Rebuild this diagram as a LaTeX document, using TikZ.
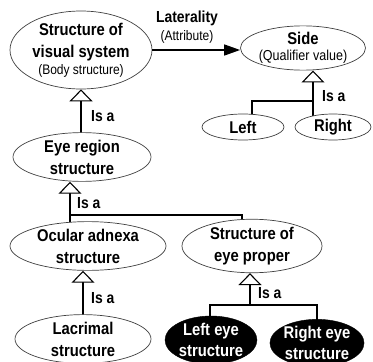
\documentclass[tikz,border=0pt]{standalone}
\usepackage{fontspec}
\setmainfont{Liberation Sans}[FakeStretch=0.87]
\usetikzlibrary{shapes.geometric,arrows.meta,backgrounds}
\begin{document}
\begin{tikzpicture}[x=1pt,y=-1pt,
  ell/.style={ellipse,draw=black!75,line width=0.7pt,fill=white,inner sep=0pt,align=center,
    font=\bfseries\fontsize{17}{22}\selectfont},
  blk/.style={ellipse,draw=black,fill=black,text=white,inner sep=0pt,align=center,
    font=\bfseries\fontsize{17}{21}\selectfont},
  sub/.style={font=\mdseries\fontsize{13.8}{15}\selectfont},
  isa/.style={line width=1.5pt,-{Triangle[width=23pt,length=12pt,fill=white,line width=1.1pt]}},
  isaline/.style={line width=1.5pt},
  lab/.style={font=\bfseries\fontsize{16}{18}\selectfont,inner sep=0pt,anchor=west},
]
\useasboundingbox (0,0) rectangle (373,362);

\node[ell,minimum width=142pt,minimum height=78pt] (VS) at (81,50)
  {Structure of\\visual system\\[-5pt]{\mdseries\fontsize{13.8}{15}\selectfont(Body structure)}};
\node[ell,minimum width=114pt,minimum height=40pt] (Side) at (303,48)
  {Side\\[-6pt]{\mdseries\fontsize{14.4}{15}\selectfont(Qualifier value)}};
\node[ell,minimum width=82pt,minimum height=26pt] (Left) at (243,127) {Left};
\node[ell,minimum width=76pt,minimum height=26pt] (Right) at (333,127) {Right};
\node[ell,minimum width=138pt,minimum height=44pt] (ER) at (82,157) {Eye region\\structure};
\node[ell,minimum width=156pt,minimum height=46pt] (OA) at (88,246) {Ocular adnexa\\structure};
\node[ell,minimum width=140pt,minimum height=48pt] (EP) at (252,246) {Structure of\\eye proper};
\node[ell,minimum width=136pt,minimum height=44pt] (LA) at (83,339) {Lacrimal\\structure};
\node[blk,minimum width=92pt,minimum height=48pt] (LE) at (211,340) {Left eye\\structure};
\node[blk,minimum width=92pt,minimum height=46pt] (RE) at (317,343) {Right eye\\structure};

\node[font=\bfseries\fontsize{16}{18}\selectfont,inner sep=0pt] (lat) at (187,18) {Laterality};
\node[sub,inner sep=0pt] (att) at (187,37) {(Attribute)};

\coordinate (j1) at (313,101);
\coordinate (j1l) at (252,101);
\coordinate (a1) at (81,0);
\coordinate (a2) at (70,215);
\coordinate (a2r) at (242,215);
\coordinate (a3) at (83,0);
\coordinate (a4) at (250,305);
\coordinate (a4l) at (210,305);
\coordinate (a4r) at (317,305);

\begin{scope}[on background layer]
  \draw[isaline] (j1l |- Left.center) -- (j1l) -- (j1);
  \draw[isa] (j1 |- Right.center) -- (j1) -- (j1 |- Side.south);
  \draw[isa] (a1 |- ER.center) -- (a1 |- VS.south);
  \draw[isaline] (a2r |- EP.center) -- (a2r) -- (a2);
  \draw[isa] (a2 |- OA.center) -- (a2) -- (a2 |- ER.south);
  \draw[isa] (a3 |- LA.center) -- (a3 |- OA.south);
  \draw[isaline] (a4l |- LE.center) -- (a4l) -- (a4r) -- (a4r |- RE.center);
  \draw[isa] (a4) -- (a4 |- EP.south);
\end{scope}

\draw[line width=1.5pt,-{Triangle[width=11pt,length=16pt]}] (VS.east |- 0,50) -- (Side.west |- 0,50);

\node[lab] (i1) at (91,116) {Is a};
\node[lab] (i2) at (322,96) {Is a};
\node[lab] (i3) at (77,203) {Is a};
\node[lab] (i4) at (91,298) {Is a};
\node[lab] (i5) at (258,293) {Is a};
\end{tikzpicture}
\end{document}
